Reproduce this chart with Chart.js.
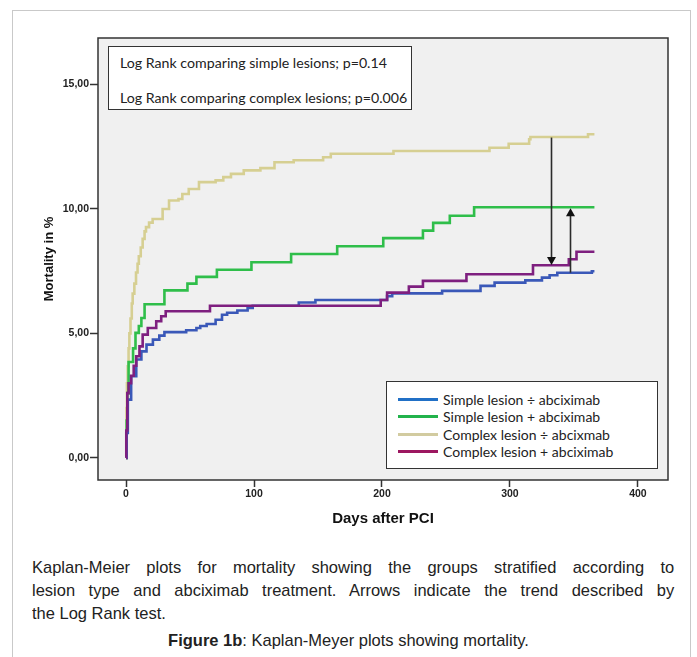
<!DOCTYPE html>
<html>
<head>
<meta charset="utf-8">
<script src="https://cdn.jsdelivr.net/npm/chart.js@4.4.1/dist/chart.umd.min.js"></script>
<style>
	html, body { margin: 0; padding: 0; background: #fff; }
	body { width: 697px; height: 657px; position: relative; overflow: hidden; }
	.frame { position: absolute; left: 12px; top: 10px; width: 677px; height: 700px; border: 1px solid #c9c9c9; }
	#chartWrap { position: absolute; left: 0; top: 0; width: 697px; height: 540px; }
	.note { position: absolute; left: 108px; top: 46px; width: 302px; height: 62px; border: 1.5px solid #333; background: #fff;
		font-family: Lato, "Open Sans", sans-serif; font-size: 14.2px; color: #222; }
	.note div { position: absolute; left: 11px; white-space: nowrap; }
	.legend { position: absolute; left: 386px; top: 381px; width: 270px; height: 86px; border: 1.5px solid #333; background: #fff;
		font-family: Lato, "Open Sans", sans-serif; font-size: 14px; color: #222; }
	.legend .row { position: absolute; left: 0; height: 17px; line-height: 17px; white-space: nowrap; }
	.legend .sw { position: absolute; left: 11px; top: 7px; width: 40px; height: 3px; }
	.legend .lb { position: absolute; left: 56px; top: 0; }
	.caption { position: absolute; left: 32px; width: 662px; transform: scaleX(0.97); transform-origin: 0 0;
		font-family: "Liberation Sans", Arial, sans-serif; font-size: 17px; line-height: 23px; color: #222; }
	.caption .j { text-align: justify; text-align-last: justify; }
	.figline { position: absolute; left: -10px; width: 717px; top: 629px; text-align: center; transform: scaleX(0.97); transform-origin: 50% 0;
		font-family: "Liberation Sans", Arial, sans-serif; font-size: 17px; line-height: 23px; color: #222; }
</style>
</head>
<body>
<div class="frame"></div>
<div id="chartWrap"><canvas id="kmChart" width="697" height="540"></canvas></div>
<div class="note">
	<div style="top:7px">Log Rank comparing simple lesions; p=0.14</div>
	<div style="top:42px">Log Rank comparing complex lesions; p=0.006</div>
</div>
<div class="legend" id="kmLegend"></div>
<div class="caption" style="top:556px">
	<div class="j">Kaplan-Meier plots for mortality showing the groups stratified according to</div>
	<div class="j">lesion type and abciximab treatment. Arrows indicate the trend described by</div>
	<div>the Log Rank test.</div>
</div>
<div class="figline"><b>Figure 1b</b>: Kaplan-Meyer plots showing mortality.</div>

<script>
	// KM step data (day, mortality %)
	var seriesLabels = ['Simple lesion ÷ abciximab', 'Simple lesion + abciximab', 'Complex lesion ÷ abcixmab', 'Complex lesion + abciximab'];

	var blueDays = [0, 0.5, 1.4, 4, 8, 12, 16, 21, 26, 30, 47, 55, 58, 63, 70, 75, 79, 87, 95, 99, 135, 148, 204, 208, 247, 277, 288, 312, 325, 331, 337, 364, 366];
	var blueVals = [0, 1.0, 2.34, 3.28, 3.95, 4.28, 4.55, 4.75, 4.91, 5.05, 5.13, 5.22, 5.3, 5.38, 5.55, 5.75, 5.83, 5.92, 6.02, 6.11, 6.24, 6.34, 6.5, 6.61, 6.71, 6.91, 7.04, 7.13, 7.24, 7.34, 7.44, 7.5, 7.5];

	var greenDays = [0, 0.5, 1, 2, 5.5, 7.4, 10, 12, 14.5, 30, 48, 55, 71, 98, 129, 165, 201, 232, 240, 253, 272, 366];
	var greenVals = [0, 1.5, 2.6, 3.85, 4.4, 5.02, 5.3, 5.62, 6.17, 6.73, 7.0, 7.27, 7.56, 7.86, 8.19, 8.5, 8.83, 9.13, 9.44, 9.73, 10.07, 10.07];

	var tanDays = [0, 0.3, 0.7, 1.3, 2, 2.6, 3.5, 4.5, 5.2, 6.5, 7.8, 9, 10, 11.5, 13, 14.5, 15.6, 18, 20.8, 28.6, 33.6, 41, 44, 49, 57, 70, 76, 82, 92, 105, 116, 131, 154, 160, 209, 284, 299, 315, 316, 361, 366];
	var tanVals = [0, 2.0, 3.0, 3.68, 4.4, 5.0, 5.6, 6.2, 6.6, 7.0, 7.45, 7.8, 8.1, 8.45, 8.8, 9.1, 9.27, 9.45, 9.6, 10.0, 10.34, 10.4, 10.6, 10.8, 11.08, 11.15, 11.28, 11.41, 11.55, 11.64, 11.88, 11.96, 12.08, 12.22, 12.33, 12.46, 12.62, 12.8, 12.89, 13.0, 13.0];

	var purpleDays = [0, 0.2, 1, 2, 4, 6, 8, 10.5, 13, 17, 23.6, 27.5, 31, 65.6, 199, 204, 221, 232, 266, 318, 346, 352, 366];
	var purpleVals = [0, 1.1, 2.6, 3.0, 3.3, 3.7, 4.08, 4.48, 4.95, 5.22, 5.49, 5.69, 5.89, 6.11, 6.34, 6.64, 6.88, 7.11, 7.38, 7.74, 7.98, 8.28, 8.28];

	var xTicks = [0, 100, 200, 300, 400];
	var yTicks = [0, 5, 10, 15];

	// arrows showing the Log Rank trend (day, from %, to %)
	var arrowDays = [332, 347];
	var arrowFrom = [12.87, 7.44];
	var arrowTo = [7.75, 10.03];

	var lineColors = ['#3a58b8', '#2fbe4a', '#d6cf92', '#7e1f7f'];
	var legendColors = ['#2170c6', '#22b34c', '#d2cba0', '#9c1760'];

	function pts(days, vals) {
		return days.map(function (d, i) { return { x: d, y: vals[i] }; });
	}

	var allDays = [blueDays, greenDays, tanDays, purpleDays];
	var allVals = [blueVals, greenVals, tanVals, purpleVals];
	var drawOrder = [1, 2, 3, 0];

	var datasets = seriesLabels.map(function (lbl, i) {
		return {
			label: lbl,
			data: pts(allDays[i], allVals[i]),
			borderColor: lineColors[i],
			borderWidth: 2.6,
			pointRadius: 0,
			showLine: true,
			stepped: 'before',
			fill: false,
			order: drawOrder[i],
		};
	});

	// legend (html)
	var legendEl = document.getElementById('kmLegend');
	var rowTops = [9, 26, 43.5, 61];
	seriesLabels.forEach(function (lbl, i) {
		var row = document.createElement('div');
		row.className = 'row';
		row.style.top = rowTops[i] + 'px';
		row.innerHTML = '<span class="sw" style="background:' + legendColors[i] + '"></span><span class="lb"></span>';
		row.querySelector('.lb').textContent = lbl;
		legendEl.appendChild(row);
	});

	var plotBg = {
		id: 'plotBg',
		beforeDraw: function (chart) {
			var a = chart.chartArea, ctx = chart.ctx;
			ctx.save();
			ctx.fillStyle = '#f0f0f0';
			ctx.fillRect(a.left, a.top, a.right - a.left, a.bottom - a.top);
			ctx.restore();
		},
		afterDraw: function (chart) {
			var a = chart.chartArea, ctx = chart.ctx;
			ctx.save();
			ctx.strokeStyle = '#333';
			ctx.lineWidth = 1.5;
			ctx.strokeRect(a.left, a.top, a.right - a.left, a.bottom - a.top);
			ctx.restore();
		},
	};

	var arrows = {
		id: 'arrows',
		afterDatasetsDraw: function (chart) {
			var ctx = chart.ctx, xs = chart.scales.x, ys = chart.scales.y;
			ctx.save();
			ctx.strokeStyle = '#2b2b2b';
			ctx.fillStyle = '#111';
			ctx.lineWidth = 1.6;
			arrowDays.forEach(function (d, i) {
				var x = Math.round(xs.getPixelForValue(d)) + 0.5;
				var y0 = ys.getPixelForValue(arrowFrom[i]);
				var y1 = ys.getPixelForValue(arrowTo[i]);
				var dir = y1 > y0 ? 1 : -1;
				ctx.beginPath();
				ctx.moveTo(x, y0);
				ctx.lineTo(x, y1 - dir * 6);
				ctx.stroke();
				ctx.beginPath();
				ctx.moveTo(x, y1);
				ctx.lineTo(x - 4.5, y1 - dir * 8);
				ctx.lineTo(x + 4.5, y1 - dir * 8);
				ctx.closePath();
				ctx.fill();
			});
			ctx.restore();
		},
	};

	var tickFont = { family: '"Liberation Sans", Arial, sans-serif', size: 10.5, weight: 'bold' };

	new Chart(document.getElementById('kmChart'), {
		type: 'scatter',
		data: { datasets: datasets },
		options: {
			responsive: false,
			animation: false,
			devicePixelRatio: 1,
			layout: { padding: { left: 0, right: 29, top: 38, bottom: 0 } },
			plugins: {
				legend: { display: false },
				tooltip: { enabled: false },
			},
			scales: {
				x: {
					type: 'linear',
					min: -21.9,
					max: 423.5,
					afterBuildTicks: function (axis) {
						axis.ticks = xTicks.map(function (v) { return { value: v }; });
					},
					afterFit: function (axis) { axis.height = 60; },
					border: { display: false },
					grid: { drawOnChartArea: false, drawTicks: true, tickLength: 7, tickColor: '#333', tickWidth: 1.5 },
					ticks: { font: tickFont, color: '#222', padding: 1, maxRotation: 0 },
					title: {
						display: true,
						text: 'Days after PCI',
						color: '#111',
						font: { family: '"Liberation Sans", Arial, sans-serif', size: 15, weight: 'bold' },
						padding: { top: 0, bottom: 12 },
					},
				},
				y: {
					type: 'linear',
					min: -0.89,
					max: 16.87,
					afterBuildTicks: function (axis) {
						axis.ticks = yTicks.map(function (v) { return { value: v }; });
					},
					afterFit: function (axis) { axis.width = 98; },
					border: { display: false },
					grid: { drawOnChartArea: false, drawTicks: true, tickLength: 8, tickColor: '#333', tickWidth: 1.5 },
					ticks: {
						font: tickFont,
						color: '#222',
						padding: 1,
						callback: function (v) { return v.toFixed(2).replace('.', ','); },
					},
					title: {
						display: true,
						text: 'Mortality in %',
						color: '#111',
						font: { family: '"Liberation Sans", Arial, sans-serif', size: 13, weight: 'bold' },
						padding: { top: 42, bottom: 0 },
					},
				},
			},
		},
		plugins: [plotBg, arrows],
	});
</script>
</body>
</html>
